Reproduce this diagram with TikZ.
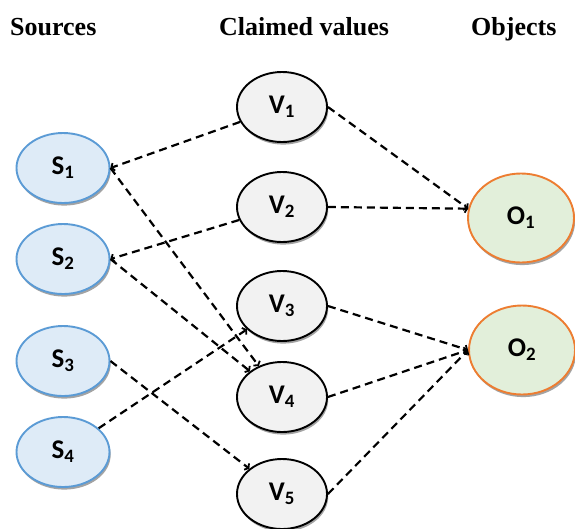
\documentclass[tikz,border=0pt]{standalone}
\usepackage{fontspec}
\setmainfont{Liberation Serif}
\newfontfamily\labfont{Carlito}
\usetikzlibrary{shapes.geometric,shadows,arrows.meta}
\definecolor{srcB}{HTML}{5B9BD5}
\definecolor{srcF}{HTML}{DEEBF7}
\definecolor{valF}{HTML}{F2F2F2}
\definecolor{objB}{HTML}{ED7D31}
\definecolor{objF}{HTML}{E2EFDA}
\begin{document}
\begin{tikzpicture}[x=1pt,y=-1pt,
  base/.style={ellipse, inner sep=0pt, line width=1.9pt,
    drop shadow={shadow xshift=1.2pt, shadow yshift=-2.6pt, fill=black!45, opacity=0.8},
    font=\labfont\bfseries\fontsize{27}{29}\selectfont},
  src/.style={base, draw=srcB, fill=srcF, minimum width=93pt, minimum height=70pt},
  val/.style={base, draw=black, fill=valF, minimum width=90pt, minimum height=70pt},
  obj/.style={base, draw=objB, fill=objF, minimum width=106pt, minimum height=89pt},
  head/.style={anchor=base west, inner sep=0pt, font=\bfseries\fontsize{26}{28}\selectfont},
  link/.style={line width=2.2pt, dash pattern=on 8pt off 5pt,
    -{Straight Barb[length=2.5pt,width=8pt,line width=1.8pt]}}]
\useasboundingbox (0,0) rectangle (575,528);
\node[head] (hs) at (10,35) {Sources};
\node[head] (hv) at (219,35) {Claimed values};
\node[head] (ho) at (471,35) {Objects};
\node[src] (S1) at (63,168) {S\textsubscript{1}};
\node[src] (S2) at (63,259) {S\textsubscript{2}};
\node[src] (S3) at (63,361) {S\textsubscript{3}};
\node[src] (S4) at (63,452) {S\textsubscript{4}};
\node[val] (V1) at (282,107) {V\textsubscript{1}};
\node[val] (V2) at (282,207) {V\textsubscript{2}};
\node[val] (V3) at (282,306) {V\textsubscript{3}};
\node[val] (V4) at (282,397) {V\textsubscript{4}};
\node[val] (V5) at (282,494) {V\textsubscript{5}};
\node[obj] (O1) at (521,218) {O\textsubscript{1}};
\node[obj] (O2) at (522,350) {O\textsubscript{2}};
\draw[link] (V1) -- (S1.east);
\draw[link] (S1.east) -- (V4);
\draw[link] (V2) -- (S2.east);
\draw[link] (S2.east) -- (V4);
\draw[link] (S3.east) -- (V5);
\draw[link] (S4) -- (V3);
\draw[link] (V1.east) -- (O1.170);
\draw[link] (V2.east) -- (O1.170);
\draw[link] (V3.east) -- (O2.west);
\draw[link] (V4.east) -- (O2.west);
\draw[link] (V5.east) -- (O2.west);
\end{tikzpicture}
\end{document}
